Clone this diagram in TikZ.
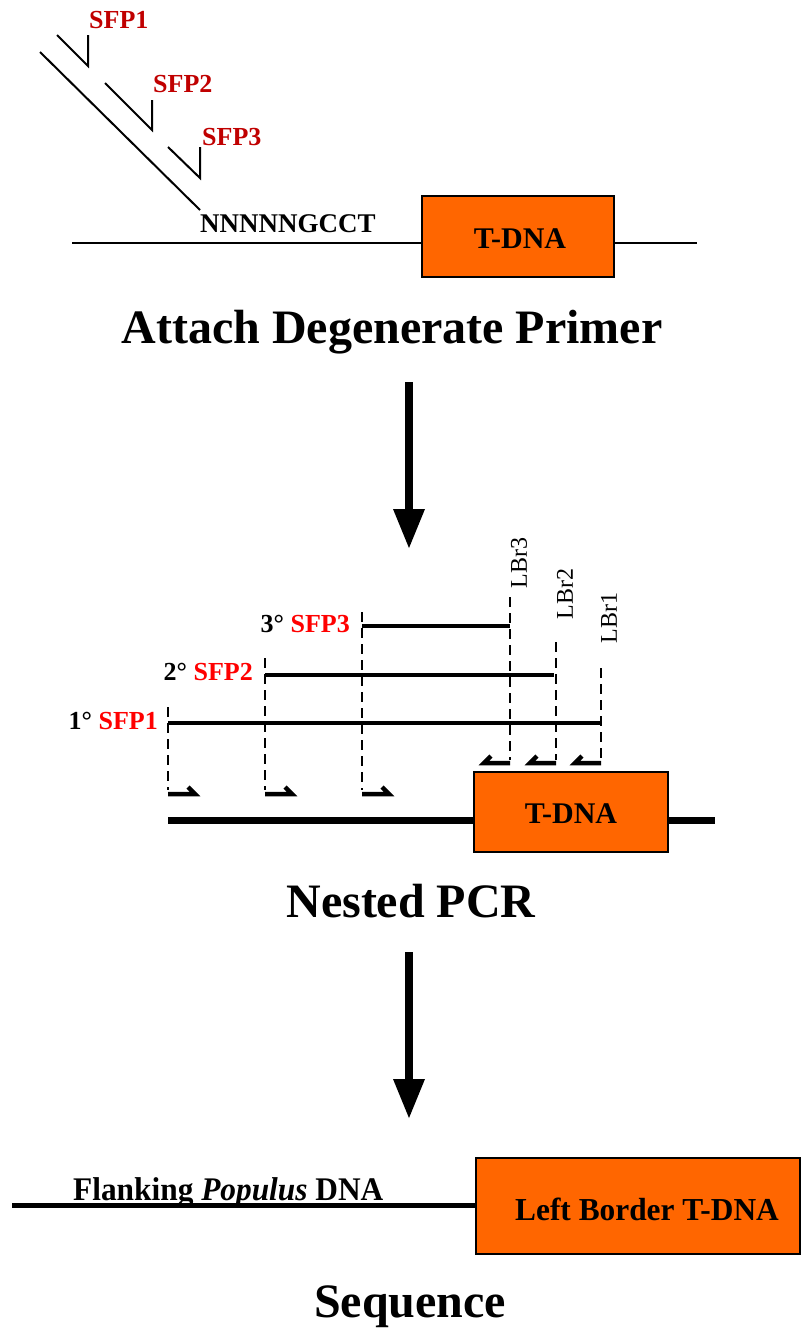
\documentclass[tikz,border=0pt]{standalone}
\usepackage{fontspec}
\setmainfont{Liberation Serif}
\usepackage{graphicx}
\usetikzlibrary{arrows.meta}
\definecolor{tdna}{HTML}{FF6600}
\definecolor{sfpdark}{HTML}{C00000}
\definecolor{sfpred}{HTML}{FF0000}
\begin{document}
\begin{tikzpicture}[x=1pt,y=-1pt,
  thinline/.style={line width=2pt},
  midline/.style={line width=4pt},
  dashline/.style={line width=2pt,dash pattern=on 10pt off 6pt},
  harp/.style={line width=4.5pt,line join=miter},
  dnabox/.style={draw=black,line width=2pt,fill=tdna,inner sep=0pt,anchor=north west},
  boxtext/.style={font=\fontsize{30}{36}\selectfont\bfseries,anchor=base,inner sep=0pt},
  bigtitle/.style={font=\fontsize{48}{56}\selectfont\bfseries,anchor=base,inner sep=0pt},
  sfptop/.style={font=\fontsize{26}{30}\selectfont\bfseries,text=sfpdark,anchor=base west,inner sep=0pt},
  roundlabel/.style={font=\fontsize{26}{30}\selectfont\bfseries,anchor=base east,inner sep=0pt},
  lbrlabel/.style={font=\fontsize{24}{28}\selectfont,rotate=90,inner sep=0pt},
  bigarrow/.style={line width=8pt,-{Triangle[length=39pt,width=32pt,line width=0pt]}}
]
\useasboundingbox (0,0) rectangle (801,1331);

% ---------- top: attach degenerate primer ----------
\coordinate (topL) at (72,243);
\coordinate (topR) at (697,243);
\node[dnabox,minimum width=192pt,minimum height=81pt] (tdnaA) at (421,195) {};
\draw[thinline] (topL) -- (topL -| tdnaA.west);
\draw[thinline] (tdnaA.east |- topR) -- (topR);
\node[boxtext] (tdnaAtxt) at (520,248) {T-DNA};

\coordinate (dgA) at (40,52);
\coordinate (dgB) at (200,210);
\draw[thinline] (dgA) -- (dgB);
\node[font=\fontsize{27}{32}\selectfont\bfseries,anchor=base west,inner sep=0pt] (nnn) at (200,232) {NNNNNGCCT};

\draw[thinline] (57,35) -- (88,66) -- (88,35);
\draw[thinline] (105,83) -- (152,130) -- (152,100);
\draw[thinline] (168,147) -- (200,178) -- (200,147);
\node[sfptop] (sfp1) at (89,28) {SFP1};
\node[sfptop] (sfp2) at (153,92) {SFP2};
\node[sfptop] (sfp3) at (202,145) {SFP3};

\node[bigtitle] (t1) at (392,343) {Attach Degenerate Primer};

\coordinate (a1s) at (409,382);
\coordinate (a1e) at (409,548);
\draw[bigarrow] (a1s) -- (a1e);

% ---------- middle: nested PCR ----------
\coordinate (midL) at (168,820);
\coordinate (midR) at (715,820);
\node[dnabox,minimum width=194pt,minimum height=80pt] (tdnaB) at (473,771) {};
\draw[line width=7pt] (midL) -- (midL -| tdnaB.west);
\draw[line width=7pt] (tdnaB.east |- midR) -- (midR);
\node[boxtext] (tdnaBtxt) at (571,823) {T-DNA};

\draw[midline] (168,723) -- (602,723);
\draw[midline] (265,675) -- (554,675);
\draw[midline] (362,626) -- (510,626);

\draw[dashline] (168,707) -- (168,790);
\draw[dashline] (265,658) -- (265,790);
\draw[dashline] (362,612) -- (362,790);
\draw[dashline] (510,597) -- (510,760);
\draw[dashline] (556,642) -- (556,760);
\draw[dashline] (601,668) -- (601,760);

\draw[harp] (168,794) -- (195,794) -- (188,787);
\draw[harp] (265,794) -- (292,794) -- (285,787);
\draw[harp] (362,794) -- (389,794) -- (382,787);
\draw[harp] (510,763) -- (484,763) -- (491,756);
\draw[harp] (556,763) -- (530,763) -- (537,756);
\draw[harp] (601,763) -- (575,763) -- (582,756);

\node[roundlabel] (r3) at (350,632) {3\textdegree{} \textcolor{sfpred}{SFP3}};
\node[roundlabel] (r2) at (253,680) {2\textdegree{} \textcolor{sfpred}{SFP2}};
\node[roundlabel] (r1) at (158,729) {1\textdegree{} \textcolor{sfpred}{SFP1}};

\node[lbrlabel] (lbr3) at (519,563) {LBr3};
\node[lbrlabel] (lbr2) at (565,594) {LBr2};
\node[lbrlabel] (lbr1) at (609,618) {LBr1};

\node[bigtitle] (t2) at (411,917) {Nested PCR};

\coordinate (a2s) at (409,952);
\coordinate (a2e) at (409,1118);
\draw[bigarrow] (a2s) -- (a2e);

% ---------- bottom: sequence ----------
\coordinate (botL) at (12,1205);
\node[dnabox,minimum width=324pt,minimum height=96pt] (tdnaC) at (475,1157) {};
\draw[line width=5pt] (botL) -- (botL -| tdnaC.west);
\node[font=\fontsize{32}{36}\selectfont\bfseries,anchor=base,inner sep=0pt] (lb) at (647,1220) {\scalebox{0.98}[1]{Left Border T-DNA}};
\node[font=\fontsize{33}{38}\selectfont\bfseries,anchor=base west,inner sep=0pt] (flank) at (73,1200) {\scalebox{0.95}[1]{Flanking \textit{Populus} DNA}};

\node[bigtitle] (t3) at (410,1317) {Sequence};
\end{tikzpicture}
\end{document}
